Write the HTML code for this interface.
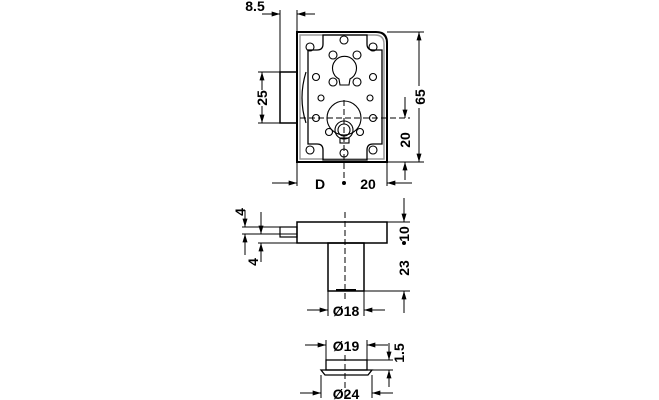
<!DOCTYPE html>
<html><head><meta charset="utf-8"><style>
html,body{margin:0;padding:0;background:#fff;}
svg{display:block;}
text{font-family:"Liberation Sans",sans-serif;font-weight:bold;font-size:14px;fill:#000;}
</style></head><body>
<svg width="659" height="400" viewBox="0 0 659 400" xmlns="http://www.w3.org/2000/svg">
<defs>
<marker id="a" viewBox="0 0 10 6" refX="10" refY="3" markerWidth="9" markerHeight="5" orient="auto-start-reverse" markerUnits="userSpaceOnUse"><path d="M0,0 L10,3 L0,6z" fill="#000"/></marker>
</defs>
<g stroke="#000" fill="none" stroke-width="1">
<line x1="280" y1="10" x2="280" y2="72"/>
<line x1="297" y1="10" x2="297" y2="32"/>
<line x1="262" y1="14" x2="280" y2="14" marker-end="url(#a)"/>
<line x1="315" y1="14" x2="297" y2="14" marker-end="url(#a)"/>
<path d="M297,32 H376 Q387,32 387,43 V162 H297 Z" stroke-width="2"/>
<path d="M300,35 H375 Q384,35 384,44 V159 H300 Z" stroke="#999" stroke-width="1.5"/>
<path d="M308,50 H317 Q323,50 323,44 V35 H367 V44 Q367,50 373,50 H382 V144 H373 Q367,144 367,150 V160 H323 V150 Q323,144 317,144 H308 Z" stroke-width="1.3"/>
<rect x="280" y="72" width="17" height="51" stroke-width="1.5"/>
<path d="M306,72 Q298,98 306,123" stroke-width="1.2"/>
<line x1="258" y1="72" x2="280" y2="72"/><line x1="258" y1="123" x2="280" y2="123"/>
<line x1="262" y1="90" x2="262" y2="72" marker-end="url(#a)"/>
<line x1="262" y1="106" x2="262" y2="123" marker-end="url(#a)"/>
<g stroke-width="1.1">
<circle cx="310" cy="47" r="4"/><circle cx="373" cy="47" r="4"/>
<circle cx="310" cy="150" r="4"/><circle cx="373" cy="150" r="4"/>
<circle cx="344" cy="40" r="4"/><circle cx="344" cy="153" r="4"/>
<circle cx="333" cy="55" r="4"/><circle cx="357" cy="55" r="4"/>
<circle cx="316" cy="77" r="3.5"/><circle cx="373" cy="77" r="3.5"/>
<circle cx="333" cy="82" r="4"/><circle cx="357" cy="82" r="4"/>
<circle cx="321" cy="98" r="3"/><circle cx="370" cy="98" r="3"/>
<circle cx="316" cy="118" r="3.5"/><circle cx="373" cy="118" r="3.5"/>
<circle cx="329" cy="132" r="3.5"/><circle cx="360" cy="132" r="3.5"/>
<path d="M339,79 A12,12 0 1 1 350,79 L349,85 H340 Z"/>
<circle cx="344" cy="118" r="17"/>
<circle cx="344" cy="130" r="9"/><circle cx="344" cy="130" r="6"/>
<rect x="340" y="138" width="9" height="5"/>
</g>
<line x1="344" y1="100" x2="344" y2="183" stroke-dasharray="6,3"/>
<line x1="300" y1="118" x2="410" y2="118" stroke-dasharray="6,3"/>
<line x1="387" y1="32" x2="424" y2="32"/><line x1="387" y1="162" x2="424" y2="162"/>
<line x1="419" y1="32" x2="419" y2="162" marker-start="url(#a)" marker-end="url(#a)"/>
<line x1="405" y1="97" x2="405" y2="118" marker-end="url(#a)"/>
<line x1="405" y1="180" x2="405" y2="162" marker-end="url(#a)"/>
<line x1="297" y1="162" x2="297" y2="186"/><line x1="387" y1="162" x2="387" y2="186"/>
<line x1="272" y1="183" x2="297" y2="183" marker-end="url(#a)"/>
<line x1="412" y1="183" x2="387" y2="183" marker-end="url(#a)"/>
<rect x="297" y="222" width="90" height="21" stroke-width="1.5"/>
<rect x="280" y="227" width="17" height="10" stroke-width="1.2"/>
<rect x="328" y="243" width="36" height="48" stroke-width="1.5"/>
<line x1="336" y1="290" x2="356" y2="290" stroke-width="2"/>
<line x1="345" y1="212" x2="345" y2="300" stroke-dasharray="6,3"/>
<line x1="242" y1="227" x2="280" y2="227"/>
<line x1="242" y1="234" x2="297" y2="234"/>
<line x1="258" y1="243" x2="297" y2="243"/>
<line x1="245" y1="210" x2="245" y2="227" marker-end="url(#a)"/>
<line x1="261" y1="212" x2="261" y2="234" marker-end="url(#a)"/>
<line x1="245" y1="255" x2="245" y2="234" marker-end="url(#a)"/>
<line x1="261" y1="262" x2="261" y2="243" marker-end="url(#a)"/>
<line x1="387" y1="222" x2="410" y2="222"/><line x1="364" y1="291" x2="410" y2="291"/>
<line x1="404" y1="198" x2="404" y2="222" marker-end="url(#a)"/>
<line x1="404" y1="313" x2="404" y2="291" marker-end="url(#a)"/>
<line x1="328" y1="291" x2="328" y2="316"/><line x1="364" y1="291" x2="364" y2="316"/>
<line x1="307" y1="310" x2="328" y2="310" marker-end="url(#a)"/>
<line x1="385" y1="310" x2="364" y2="310" marker-end="url(#a)"/>
<rect x="326" y="360" width="41" height="10" stroke-width="1.3"/>
<path d="M321,370 H372 L368,375 H325 Z" stroke-width="1.3"/>
<line x1="345" y1="355" x2="345" y2="398" stroke-dasharray="6,3"/>
<line x1="326" y1="340" x2="326" y2="360"/><line x1="367" y1="340" x2="367" y2="360"/>
<line x1="305" y1="345" x2="326" y2="345" marker-end="url(#a)"/>
<line x1="388" y1="345" x2="367" y2="345" marker-end="url(#a)"/>
<line x1="367" y1="360" x2="393" y2="360"/><line x1="372" y1="370" x2="393" y2="370"/>
<line x1="389" y1="343" x2="389" y2="360" marker-end="url(#a)"/>
<line x1="389" y1="387" x2="389" y2="370" marker-end="url(#a)"/>
<line x1="321" y1="375" x2="321" y2="398"/><line x1="372" y1="375" x2="372" y2="398"/>
<line x1="300" y1="393" x2="321" y2="393" marker-end="url(#a)"/>
<line x1="393" y1="393" x2="372" y2="393" marker-end="url(#a)"/>
</g>
<circle cx="344" cy="183" r="2" fill="#000"/>
<circle cx="404" cy="243" r="2" fill="#000"/>
<text x="255" y="11" text-anchor="middle">8.5</text>
<text x="320" y="189" text-anchor="middle">D</text>
<text x="368" y="189" text-anchor="middle">20</text>
<rect x="413" y="86" width="14" height="22" fill="#fff"/>
<text transform="translate(425,97) rotate(-90)" text-anchor="middle">65</text>
<text transform="translate(267,98) rotate(-90)" text-anchor="middle">25</text>
<text transform="translate(410,140) rotate(-90)" text-anchor="middle">20</text>
<text transform="translate(245,212) rotate(-90)" text-anchor="middle">4</text>
<text transform="translate(258,262) rotate(-90)" text-anchor="middle">4</text>
<text transform="translate(409,234) rotate(-90)" text-anchor="middle">10</text>
<text transform="translate(409,268) rotate(-90)" text-anchor="middle">23</text>
<text transform="translate(404,353) rotate(-90)" text-anchor="middle">1.5</text>
<text x="346" y="316" text-anchor="middle">Ø18</text>
<text x="346" y="351" text-anchor="middle">Ø19</text>
<text x="346" y="399" text-anchor="middle">Ø24</text>
</svg>
</body></html>
